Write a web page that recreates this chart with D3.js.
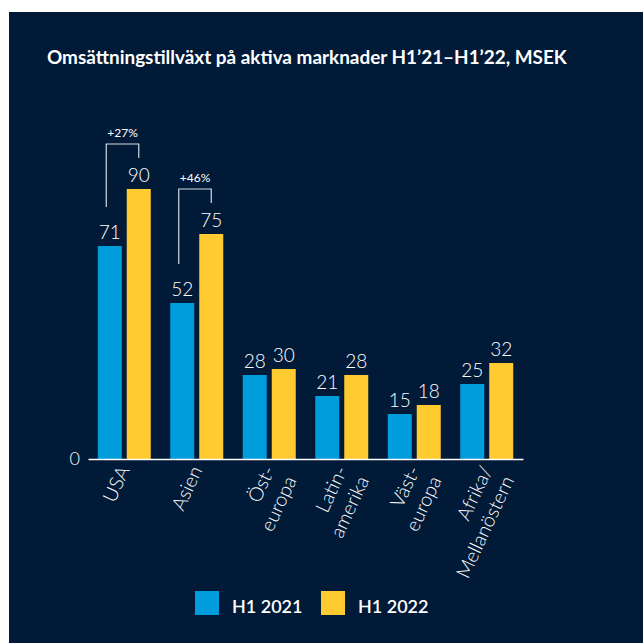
<!DOCTYPE html>
<html lang="sv">
<head>
<meta charset="utf-8">
<title>Omsättningstillväxt</title>
<script src="https://cdn.jsdelivr.net/npm/d3@7"></script>
<style>
  html, body { margin: 0; padding: 0; background: #ffffff; }
  svg { display: block; font-family: "Lato", "Open Sans", sans-serif; }
</style>
</head>
<body>
<div id="chart"></div>
<script>
// data
var categories = ["USA", "Asien", "Öst-\neuropa", "Latin-\namerika", "Väst-\neuropa", "Afrika/\nMellanöstern"];
var seriesNames = ["H1 2021", "H1 2022"];
var h1_2021 = [71, 52, 28, 21, 15, 25];
var h1_2022 = [90, 75, 30, 28, 18, 32];
var growthCats = ["USA", "Asien"];
var growthLabels = ["+27%", "+46%"];
var yTicks = [0];

var colors = ["#009ddc", "#ffcb31"];
var navy = "#011a38";

var w = 643, h = 643;

var svg = d3.select("#chart").append("svg")
    .attr("width", w)
    .attr("height", h);

svg.append("rect").attr("width", w).attr("height", h).attr("fill", "#ffffff");
svg.append("rect").attr("x", 9).attr("y", 12).attr("width", w - 9).attr("height", h - 12).attr("fill", navy);

// title, fitted to the reference width
var title = svg.append("text")
    .attr("x", 47).attr("y", 64)
    .attr("fill", "#ffffff")
    .attr("font-weight", 700)
    .attr("font-size", 17)
    .text("Omsättningstillväxt på aktiva marknader H1’21–H1’22, MSEK");
var tw = title.node().getComputedTextLength();
title.attr("font-size", 17 * 520 / tw);

var x0 = d3.scaleBand().domain(categories).range([88, 523]);
var x1 = d3.scaleBand().domain(seriesNames).range([-26.5, 26.5]).paddingInner(5 / 29);
var y = d3.scaleLinear().domain([0, 90]).range([459, 189]);

var rows = categories.map(function(c, i) {
    return { cat: c, values: [h1_2021[i], h1_2022[i]] };
});

var groups = svg.selectAll("g.group")
    .data(rows)
    .enter().append("g")
    .attr("class", "group")
    .attr("transform", function(d) { return "translate(" + (x0(d.cat) + x0.bandwidth() / 2) + ",0)"; });

groups.selectAll("rect")
    .data(function(d) { return d.values.map(function(v, j) { return { s: seriesNames[j], v: v, j: j }; }); })
    .enter().append("rect")
    .attr("x", function(d) { return x1(d.s); })
    .attr("y", function(d) { return y(d.v); })
    .attr("width", x1.bandwidth())
    .attr("height", function(d) { return y(0) - y(d.v); })
    .attr("fill", function(d) { return colors[d.j]; });

groups.selectAll("text.val")
    .data(function(d) { return d.values.map(function(v, j) { return { s: seriesNames[j], v: v }; }); })
    .enter().append("text")
    .attr("class", "val")
    .attr("x", function(d) { return x1(d.s) + x1.bandwidth() / 2; })
    .attr("y", function(d) { return y(d.v) - 7; })
    .attr("text-anchor", "middle")
    .attr("fill", "#ffffff")
    .attr("font-size", 19)
    .attr("font-weight", 300)
    .text(function(d) { return d.v; });

// x axis
var xAxis = svg.append("g")
    .attr("transform", "translate(0," + y(0) + ")")
    .call(d3.axisBottom(x0).tickSize(0));
xAxis.select(".domain").attr("stroke", "#ffffff").attr("stroke-width", 1.5);
xAxis.selectAll(".tick text").remove();
xAxis.selectAll(".tick").each(function(d) {
    var lines = d.split("\n");
    var t = d3.select(this).append("text")
        .attr("transform", "translate(6,11) rotate(-65)")
        .attr("text-anchor", "end")
        .attr("fill", "#ffffff")
        .attr("font-size", 19.5)
        .attr("font-weight", 300)
        .attr("font-family", "Lato, sans-serif");
    lines.forEach(function(l, i) {
        t.append("tspan").attr("x", 0).attr("dy", i === 0 ? 0 : 24).text(l);
    });
});

// y axis: only zero
var yAxis = svg.append("g")
    .attr("transform", "translate(88,0)")
    .call(d3.axisLeft(y).tickValues(yTicks).tickSize(0).tickPadding(8));
yAxis.select(".domain").remove();
yAxis.selectAll(".tick text")
    .attr("fill", "#ffffff")
    .attr("font-size", 18)
    .attr("font-weight", 300)
    .attr("font-family", "Lato, sans-serif");

// growth brackets
growthCats.forEach(function(c, i) {
    var idx = categories.indexOf(c);
    var cx = x0(c) + x0.bandwidth() / 2;
    var xl = cx + x1(seriesNames[0]) + x1.bandwidth() / 2 - 3.5;
    var xr = cx + x1(seriesNames[1]) + x1.bandwidth() / 2;
    var top = y(h1_2022[idx]) - 45;
    var leftBottom = y(h1_2021[idx]) - 39;
    svg.append("path")
        .attr("d", "M" + xl + "," + leftBottom + "V" + top + "H" + xr + "V" + (top + 14))
        .attr("fill", "none")
        .attr("stroke", "#d8dbe0")
        .attr("stroke-width", 1.2);
    svg.append("text")
        .attr("x", (xl + xr) / 2)
        .attr("y", top - 7)
        .attr("text-anchor", "middle")
        .attr("fill", "#ffffff")
        .attr("font-size", 12)
        .text(growthLabels[i]);
});

// legend
var legendX = [195, 321];
var legend = svg.selectAll("g.legend")
    .data(seriesNames)
    .enter().append("g")
    .attr("class", "legend")
    .attr("transform", function(d, i) { return "translate(" + legendX[i] + ",591)"; });
legend.append("rect")
    .attr("width", 24).attr("height", 24)
    .attr("fill", function(d, i) { return colors[i]; });
legend.append("text")
    .attr("x", 37).attr("y", 22)
    .attr("fill", "#ffffff")
    .attr("font-size", 18)
    .attr("font-weight", 600)
    .text(function(d) { return d; });
</script>
</body>
</html>
